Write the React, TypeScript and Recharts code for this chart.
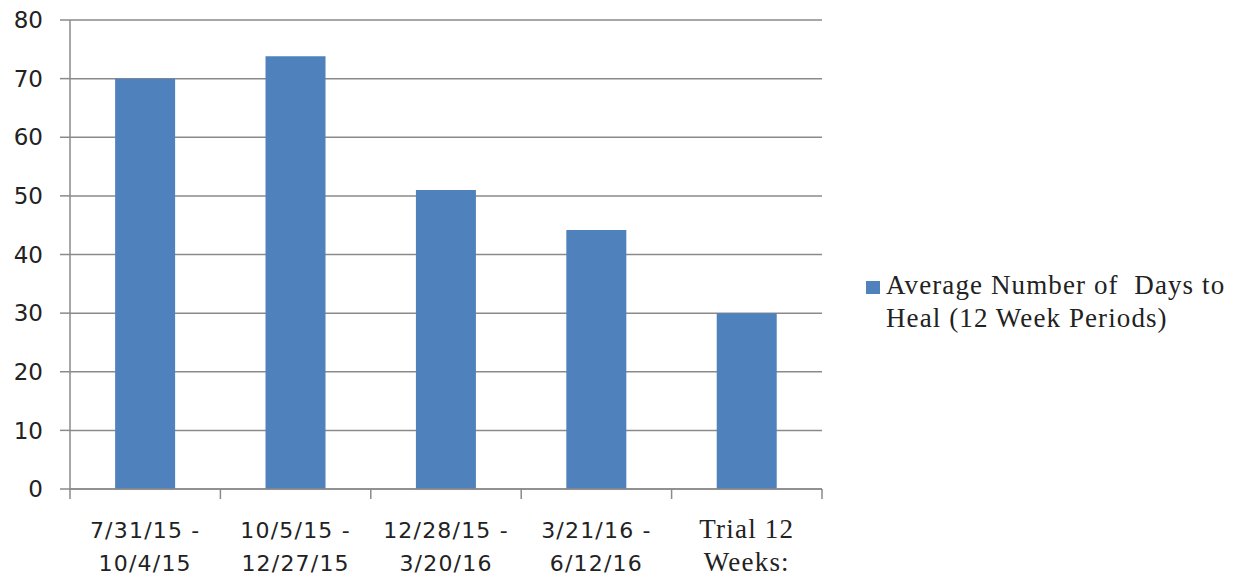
import { BarChart, Bar, XAxis, YAxis, CartesianGrid } from 'recharts';

const categories = [
  ['7/31/15 -', '10/4/15'],
  ['10/5/15 -', '12/27/15'],
  ['12/28/15 -', '3/20/16'],
  ['3/21/16 -', '6/12/16'],
  ['Trial 12', 'Weeks:'],
];
const avgDays = [70, 73.8, 51, 44.2, 30];
const yTicks = [0, 10, 20, 30, 40, 50, 60, 70, 80];
const seriesName = ['Average Number of  Days to', 'Heal (12 Week Periods)'];

const W = 1241;
const H = 577;
const PLOT_LEFT = 70;
const PLOT_RIGHT = 822;
const STEP = (PLOT_RIGHT - PLOT_LEFT) / categories.length;
const GRAY = '#8a8a8a';
const BLUE = '#4F81BD';

const data = categories.map((c, i) => ({ name: c.join(' '), lines: c, value: avgDays[i] }));

const XTick = (props: any) => {
  const { x, y, index } = props;
  const lines = categories[index] || [];
  const isSerif = index === categories.length - 1;
  const font = isSerif ? "'Liberation Serif', serif" : "'DejaVu Sans', sans-serif";
  return (
    <g>
      <line x1={x - STEP / 2} y1={y} x2={x - STEP / 2} y2={y + 10} stroke={GRAY} strokeWidth={1.5} />
      {index === categories.length - 1 && (
        <line x1={x + STEP / 2} y1={y} x2={x + STEP / 2} y2={y + 10} stroke={GRAY} strokeWidth={1.5} />
      )}
      {lines.map((l, i) => (
        <text
          key={i}
          x={x}
          y={y + 49 + i * 33}
          textAnchor="middle"
          fontFamily={font}
          fontSize={isSerif ? 27 : 22}
          letterSpacing={isSerif ? 1.2 : 1.2}
          fill="#222"
        >
          {l}
        </text>
      ))}
    </g>
  );
};

export default function App() {
  return (
    <div style={{ position: 'absolute', left: 0, top: 0, width: W, height: H, background: '#fff' }}>
      <BarChart
        width={W}
        height={H}
        data={data}
        margin={{ top: 20, right: W - PLOT_RIGHT, left: 10, bottom: 0 }}
        barCategoryGap="30%"
      >
        <CartesianGrid vertical={false} stroke={GRAY} strokeWidth={1.5} />
        <XAxis
          dataKey="name"
          height={88}
          interval={0}
          tickSize={0}
          tickMargin={0}
          tickLine={false}
          axisLine={{ stroke: GRAY, strokeWidth: 1.5 }}
          tick={<XTick />}
        />
        <YAxis
          width={60}
          domain={[0, 80]}
          ticks={yTicks}
          interval={0}
          tickSize={10}
          tickMargin={17}
          tickLine={{ stroke: GRAY, strokeWidth: 1.5 }}
          axisLine={{ stroke: GRAY, strokeWidth: 1.5 }}
          tick={{ fontFamily: "'DejaVu Sans', sans-serif", fontSize: 23, fill: '#222' }}
        />
        <Bar dataKey="value" fill={BLUE} isAnimationActive={false} />
      </BarChart>
      <div style={{ position: 'absolute', left: 866, top: 281, width: 14, height: 13, background: BLUE }} />
      <div
        style={{
          position: 'absolute',
          left: 886,
          top: 269,
          fontFamily: "'Liberation Serif', serif",
          fontSize: 27,
          letterSpacing: 1.1,
          lineHeight: '33px',
          color: '#222',
          whiteSpace: 'pre',
        }}
      >
        {seriesName[0]}
        <br />
        {seriesName[1]}
      </div>
    </div>
  );
}
